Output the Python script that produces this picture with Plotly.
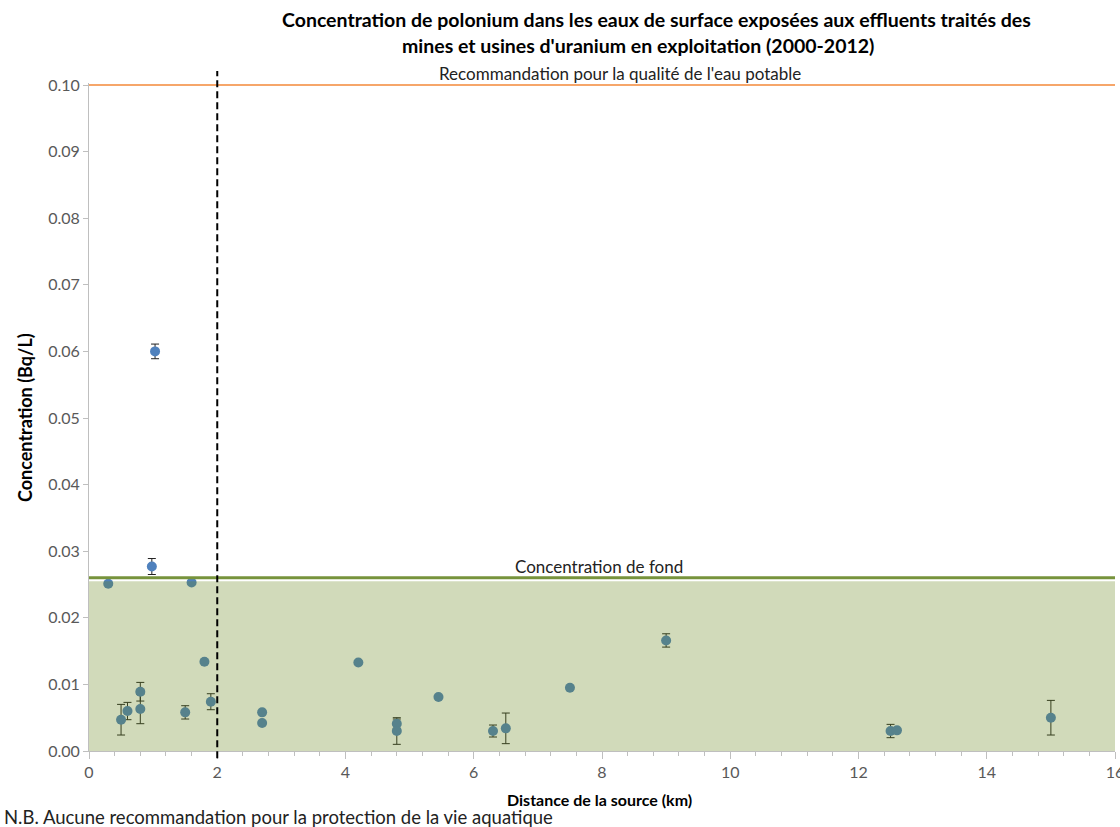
import plotly.graph_objects as go

# ---- data ----
distance_km = [0.3, 0.5, 0.6, 0.8, 0.8, 1.03, 0.98, 1.5, 1.6, 1.8, 1.9, 2.7, 2.7,
               4.2, 4.8, 4.8, 5.45, 6.3, 6.5, 7.5, 9.0, 12.5, 12.6, 15.0]
concentration = [0.0251, 0.0047, 0.0060, 0.0089, 0.0063, 0.0600, 0.0277, 0.0058,
                 0.0253, 0.0134, 0.0074, 0.0058, 0.0042, 0.0133, 0.0041, 0.0030,
                 0.0081, 0.0030, 0.0034, 0.0095, 0.0166, 0.0030, 0.0031, 0.0050]
error = [0.0002, 0.0023, 0.0013, 0.0014, 0.0022, 0.0011, 0.0012, 0.0010,
         0.0, 0.0, 0.0012, 0.0, 0.0, 0.0, 0.0007, 0.0020,
         0.0, 0.0009, 0.0023, 0.0, 0.0010, 0.0010, 0.0, 0.0026]

drinking_water_guideline = 0.10
background_conc = 0.026
background_fill_top = 0.0255
zone_limit_km = 2
x_range = [0, 16]
y_range = [0, 0.1003]
x_ticks = [0, 2, 4, 6, 8, 10, 12, 14, 16]
y_ticks = [0.00, 0.01, 0.02, 0.03, 0.04, 0.05, 0.06, 0.07, 0.08, 0.09, 0.10]

FONT = "Lato, Open Sans, sans-serif"
GREY = "#595959"

fig = go.Figure()
fig.add_trace(go.Scatter(
    x=distance_km, y=concentration, mode="markers",
    marker=dict(color="#4f81bd", size=10),
    error_y=dict(type="data", array=error, visible=True, color="#222222",
                 thickness=1, width=4),
    showlegend=False, cliponaxis=False,
))

shapes = [
    dict(type="rect", xref="x", yref="y", x0=x_range[0], x1=x_range[1],
         y0=0, y1=background_fill_top, layer="above", line=dict(width=0),
         fillcolor="rgba(102,132,28,0.30)"),
    dict(type="line", xref="x", yref="y", x0=x_range[0], x1=x_range[1],
         y0=background_conc, y1=background_conc, layer="above",
         line=dict(color="#77933c", width=3)),
    dict(type="line", xref="x", yref="y", x0=x_range[0], x1=x_range[1],
         y0=drinking_water_guideline, y1=drinking_water_guideline, layer="above",
         line=dict(color="#f6a66a", width=2)),
    dict(type="line", xref="x", yref="paper", x0=zone_limit_km, x1=zone_limit_km,
         y0=-0.011, y1=1.018, layer="above",
         line=dict(color="#000000", width=2, dash="7px,4px")),
]

annotations = [
    dict(text="<b>Concentration de polonium dans les eaux de surface exposées aux effluents traités des</b>",
         xref="paper", yref="paper", x=0.553, y=1.0958, xanchor="center", yanchor="middle",
         showarrow=False, font=dict(family=FONT, size=19.5, color="#000000")),
    dict(text="<b>mines et usines d'uranium en exploitation (2000-2012)</b>",
         xref="paper", yref="paper", x=0.535, y=1.0554, xanchor="center", yanchor="middle",
         showarrow=False, font=dict(family=FONT, size=19.5, color="#000000")),
    dict(text="Recommandation pour la qualité de l'eau potable",
         xref="x", yref="y", x=8.28, y=drinking_water_guideline, yanchor="bottom",
         showarrow=False, yshift=-1, font=dict(family=FONT, size=17, color="#222222")),
    dict(text="Concentration de fond",
         xref="x", yref="y", x=7.96, y=background_conc, yanchor="bottom",
         showarrow=False, yshift=-1, font=dict(family=FONT, size=17, color="#222222")),
    dict(text="N.B. Aucune recommandation pour la protection de la vie aquatique",
         xref="paper", yref="paper", x=-0.085, y=-0.0988, xanchor="left", yanchor="middle",
         showarrow=False, font=dict(family=FONT, size=18.5, color="#222222")),
    dict(text="<b>Concentration (Bq/L)</b>", textangle=-90,
         xref="paper", yref="paper", x=-0.0624, y=0.5, xanchor="center", yanchor="middle",
         showarrow=False, font=dict(family=FONT, size=18, color="#000000")),
    dict(text="<b>Distance de la source (km)</b>",
         xref="paper", yref="paper", x=0.498, y=-0.0719, xanchor="center", yanchor="middle",
         showarrow=False, font=dict(family=FONT, size=16, color="#000000")),
]

fig.update_layout(
    width=1120, height=827,
    margin=dict(l=89, r=5, t=83, b=76, autoexpand=False),
    paper_bgcolor="white", plot_bgcolor="white",
    shapes=shapes, annotations=annotations,
    font=dict(family=FONT, size=13, color=GREY),
    xaxis=dict(range=x_range, tickvals=x_ticks, showgrid=False, zeroline=False,
               showline=True, linecolor="#bfbfbf", linewidth=1,
               ticks="outside", ticklen=7, tickcolor="#bfbfbf",
               ticklabeloverflow="allow",
               minor=dict(dtick=0.4, ticks="outside", ticklen=4, tickcolor="#bfbfbf"),
               tickfont=dict(family=FONT, size=16, color=GREY)),
    yaxis=dict(range=y_range, tickvals=y_ticks, tickformat=".2f", showgrid=False,
               zeroline=False, showline=True, linecolor="#bfbfbf", linewidth=1,
               ticks="outside", ticklen=5, tickcolor="#bfbfbf",
               tickfont=dict(family=FONT, size=16, color=GREY)),
)

fig.write_html("out.html", config={"displayModeBar": False},
               post_script="document.body.style.margin='0';document.body.style.overflow='hidden';")
